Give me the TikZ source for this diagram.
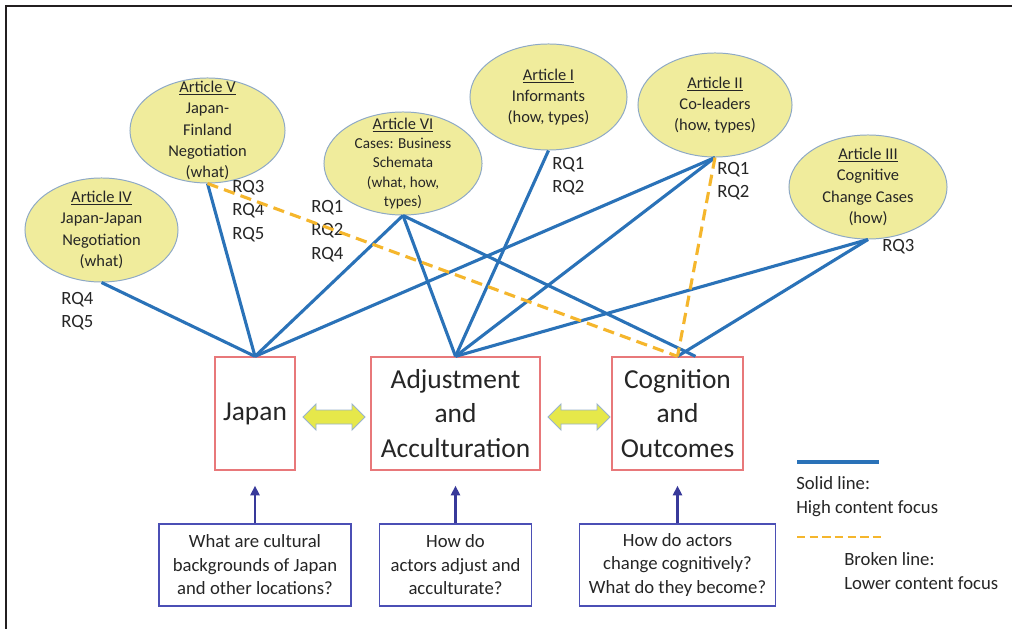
\documentclass[tikz,border=0pt]{standalone}
\usepackage{fontspec}
\setmainfont{Carlito}
\usetikzlibrary{shapes.geometric,arrows.meta}
\definecolor{lineblue}{HTML}{2A72B8}
\definecolor{dashorange}{HTML}{F5B62C}
\definecolor{ellfill}{HTML}{F0EC9C}
\definecolor{ellborder}{HTML}{8EA9C6}
\definecolor{boxred}{HTML}{E8787A}
\definecolor{qblue}{HTML}{4B4FB5}
\definecolor{navyarrow}{HTML}{38399A}
\definecolor{arrfill}{HTML}{E6E84A}
\definecolor{arrborder}{HTML}{9AB4CC}
\definecolor{textgray}{HTML}{262626}
\definecolor{framegray}{HTML}{231F20}
\begin{document}
\begin{tikzpicture}[x=0.025cm, y=-0.025cm,
  every node/.style={text=textgray},
  art/.style={ellipse, draw=ellborder, line width=0.7pt, fill=ellfill, inner sep=0pt},
  arttext/.style={align=center, inner sep=0pt, font=\fontsize{11.7}{15.2}\selectfont},
  rq/.style={anchor=west, align=left, inner sep=0pt, font=\fontsize{13.3}{16.8}\selectfont},
  topic/.style={draw=boxred, line width=0.9pt, align=center, inner sep=0pt,
    minimum height=2.825cm, font=\fontsize{19.5}{24.5}\selectfont},
  question/.style={draw=qblue, line width=0.9pt, align=center, inner sep=0pt,
    minimum height=2.05cm, font=\fontsize{13.3}{16.7}\selectfont},
  legendtext/.style={anchor=west, align=left, inner sep=0pt, font=\fontsize{13.3}{17}\selectfont},
  high/.style={draw=lineblue, line width=2.2pt},
  low/.style={draw=dashorange, line width=2.2pt, dash pattern=on 8pt off 4.5pt},
  uparr/.style={draw=navyarrow, line width=1.7pt, -{Triangle[length=7pt,width=6.5pt]}},
  dbl/.style={fill=arrfill, draw=arrborder, line width=0.6pt},
]
% canvas and frame
\fill[white] (0,0) rectangle (1012,629);
\useasboundingbox (0,0) rectangle (1012,629);
\draw[framegray, line width=1.8pt] (6,629) -- (6,6) -- (1012,6);

% articles
\node[art, minimum width=3.825cm, minimum height=2.6cm] (a4) at (101.5,230) {};
\node[arttext] at (a4.center) {\underline{Article IV}\\Japan-Japan\\Negotiation\\(what)};
\node[art, minimum width=3.875cm, minimum height=2.625cm] (a5) at (207.5,130.5) {};
\node[arttext] at (a5.center) {\underline{Article V}\\Japan-\\Finland\\Negotiation\\(what)};
\node[art, minimum width=3.95cm, minimum height=2.575cm] (a6) at (403,163.5) {};
\node[arttext, font=\fontsize{10.8}{13.8}\selectfont] at (a6.center) {\underline{\fontsize{11.7}{13.8}\selectfont Article VI}\\Cases: Business\\Schemata\\(what, how,\\types)};
\node[art, minimum width=3.925cm, minimum height=2.65cm] (a1) at (548.5,97) {};
\node[arttext] at (a1.center) {\underline{Article I}\\Informants\\(how, types)};
\node[art, minimum width=3.85cm, minimum height=2.6cm] (a2) at (715,105) {};
\node[arttext] at (a2.center) {\underline{Article II}\\Co-leaders\\(how, types)};
\node[art, minimum width=3.95cm, minimum height=2.6cm] (a3) at (868,187) {};
\node[arttext] at (a3.center) {\underline{Article III}\\Cognitive\\Change Cases\\(how)};

% research question labels
\node[rq] (rq4) at (61,311) {RQ4\\RQ5};
\node[rq] (rq5) at (232,211) {RQ3\\RQ4\\RQ5};
\node[rq] (rq6) at (311,231) {RQ1\\RQ2\\RQ4};
\node[rq] (rq1) at (552,176) {RQ1\\RQ2};
\node[rq] (rq2) at (717,181) {RQ1\\RQ2};
\node[rq] (rq3) at (882,247) {RQ3};

% topic boxes
\node[topic, minimum width=2.0cm] (japan) at (255,413.5) {Japan};
\node[topic, minimum width=4.225cm] (adj) at (455.5,413.5) {Adjustment\\and\\Acculturation};
\node[topic, minimum width=3.275cm] (cog) at (677.5,413.5) {Cognition\\and\\Outcomes};
\coordinate (cogR) at ([xshift=0.45cm]cog.north);

% connectors: high content focus
\draw[high] (a4.south) -- (japan.north);
\draw[high] (a5.south) -- (japan.north);
\draw[high] (a6.south) -- (japan.north);
\draw[high] (a2.south) -- (japan.north);
\draw[high] (a6.south) -- (adj.north);
\draw[high] (a1.south) -- (adj.north);
\draw[high] (a2.south) -- (adj.north);
\draw[high] (a3.south) -- (adj.north);
\draw[high] (a6.south) -- (cogR);
\draw[high] (a3.south) -- (cog.north);
% connectors: lower content focus
\draw[low] (a5.south) -- (cog.north);
\draw[low] (a2.south) -- (cog.north);

% two-way arrows between the topics
\draw[dbl] (303,417) -- (316,404) -- (316,410) -- (352,410) -- (352,404) -- (365,417)
  -- (352,430) -- (352,424) -- (316,424) -- (316,430) -- cycle;
\draw[dbl] (548,417) -- (561,404) -- (561,410) -- (597,410) -- (597,404) -- (610,417)
  -- (597,430) -- (597,424) -- (561,424) -- (561,430) -- cycle;

% guiding questions
\node[question, minimum width=4.8cm] (q1) at (255,565) {What are cultural\\backgrounds of Japan\\and other locations?};
\node[question, minimum width=3.8cm] (q2) at (455.5,565) {How do\\actors adjust and\\acculturate?};
\node[question, minimum width=4.9cm] (q3) at (677.5,565) {How do actors\\change cognitively?\\What do they become?};
\draw[uparr] (q1.north) -- ([yshift=-0.375cm]japan.south);
\draw[uparr] (q2.north) -- ([yshift=-0.375cm]adj.south);
\draw[uparr] (q3.north) -- ([yshift=-0.375cm]cog.south);

% legend
\coordinate (ls1) at (797,462);
\coordinate (le1) at (879,462);
\coordinate (ls2) at (797,537);
\coordinate (le2) at (882,537);
\draw[high] (ls1) -- (le1);
\draw[low, line width=1.8pt, dash pattern=on 6pt off 3pt] (ls2) -- (le2);
\node[legendtext] (lt1) at (796,497) {Solid line:\\High content focus};
\node[legendtext] (lt2) at (844,571) {Broken line:\\Lower content focus};
\end{tikzpicture}
\end{document}
